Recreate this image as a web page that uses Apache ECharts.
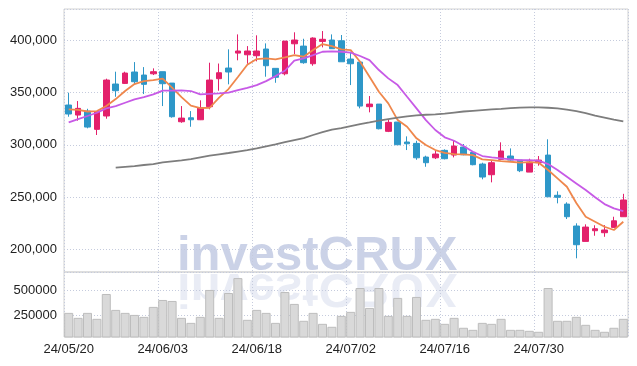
<!DOCTYPE html>
<html><head><meta charset="utf-8">
<script src="https://cdn.jsdelivr.net/npm/echarts@6/dist/echarts.min.js"></script>
<style>html,body{margin:0;padding:0;background:#fff}#c{width:637px;height:366px}</style>
</head><body><div id="c"></div>
<script>
const dates = ["24/05/20","24/05/21","24/05/22","24/05/23","24/05/24","24/05/27","24/05/28","24/05/29","24/05/30","24/05/31",
"24/06/03","24/06/04","24/06/05","24/06/07","24/06/10","24/06/11","24/06/12","24/06/13","24/06/14","24/06/17",
"24/06/18","24/06/19","24/06/20","24/06/21","24/06/24","24/06/25","24/06/26","24/06/27","24/06/28","24/07/01",
"24/07/02","24/07/03","24/07/04","24/07/05","24/07/08","24/07/09","24/07/10","24/07/11","24/07/12","24/07/15",
"24/07/16","24/07/17","24/07/18","24/07/19","24/07/22","24/07/23","24/07/24","24/07/25","24/07/26","24/07/29",
"24/07/30","24/07/31","24/08/01","24/08/02","24/08/05","24/08/06","24/08/07","24/08/08","24/08/09","24/08/12"];
const opens = [338100,328500,332300,314800,327600,358200,358800,369700,366800,368000,
370000,359100,322100,325900,324000,336500,363300,373500,387800,386200,
385300,391700,373200,368000,396700,394500,377600,399000,400300,399600,
382100,379200,336500,339000,312900,321800,302700,301400,288300,287600,
294700,290200,297900,292800,281600,271400,286100,289300,285400,273900,
282900,290200,251700,243300,222300,207600,217800,215900,221000,231200];
const closes = [329500,334900,317000,331700,362000,351800,368700,360400,357900,370000,
358500,326900,325600,324000,335500,362000,369000,369700,389800,389800,
389800,375700,364600,399300,400300,378600,402200,401000,392000,379500,
377600,337100,339000,315400,321500,300100,301000,287600,282900,291200,
286700,298800,290500,281000,269200,282900,294100,285400,275200,283500,
285400,250300,249800,231200,204400,221300,219700,218500,227300,247200];
const lows = [326900,323100,315800,309400,325000,346000,358200,358200,348600,366800,
337100,326000,321100,317300,323700,334000,351800,357900,380900,377600,
379900,365200,359400,366500,386900,377600,375700,393300,392000,379500,
357200,334900,331100,314800,312200,300100,295000,285700,279000,286400,
286100,288000,290000,280400,267000,264100,286100,284800,273900,273900,
280000,250300,244000,229000,191400,207600,213000,212000,221000,231200];
const highs = [349900,341900,334500,332300,363300,370000,370000,379200,374400,373200,
370000,359100,337100,332300,342600,378600,377800,391400,405700,394500,
404800,397100,373200,399300,407700,401500,402900,408900,405700,405100,
389100,379200,346700,339000,324400,321800,308100,303900,289600,294400,
295700,303900,300800,294000,282900,285500,302400,296600,285400,286700,
289300,305300,255500,245000,224900,223900,223000,223200,231200,253100];
const ma5 = [334000,333500,331900,332300,337100,343800,351500,358200,361000,362000,
363400,354800,345700,337600,335200,335500,345100,353400,364900,376700,
382100,382800,381800,383700,385900,384300,390700,396500,394500,391400,
390700,379500,365200,350800,339700,323700,317300,306200,299800,295000,
292400,291200,290900,290200,286100,285400,284500,283800,282900,283500,
282900,275900,267900,259900,244300,231200,226400,221600,218500,226400];
const ma10 = [321500,324700,327600,330700,334900,337100,340300,343500,345700,348300,
351800,351800,352200,351500,348300,348800,349300,349900,352400,354600,
357200,361000,365800,370900,380500,382800,385900,389100,389500,389100,
388300,385000,381100,371600,363600,357200,346000,334900,323700,314200,
307200,303900,298900,293400,289300,288000,287100,286100,285400,285400,
284800,281600,275900,269500,263100,256700,249800,243300,239200,236600];
const maLong = [null,null,null,null,null,278100,278900,279700,280700,281600,
283200,284200,285200,286400,288000,289600,290900,292200,293600,295000,
296600,298600,300500,302700,304600,306500,309400,312200,314600,316100,
318000,319900,321500,323200,324700,326100,327300,328200,328800,329200,
329900,330900,331900,332600,333300,334000,334500,335200,335700,335900,
335900,335500,334900,333800,332300,330400,328000,326100,324200,322500];
const volumes = [273600,223000,273600,213000,466000,304000,273600,253000,233000,334500,
405000,395000,223000,172000,233000,507000,223000,476000,628000,203000,
304000,273600,172000,486000,365000,193000,273600,162000,132000,243000,
284000,527000,324000,527000,243000,426000,243000,436000,203000,213000,
162000,223000,122000,101000,172000,162000,213000,101000,101000,91000,
81000,527000,193000,193000,233000,152000,101000,81000,122000,213000];
const volumeTicks = [250000, 500000];
const watermark = "investCRUX";

const UP = '#e3206b', DOWN = '#2e97c8';
const gridLine = {show:true, lineStyle:{color:'#c5cbdd', type:[1,2], width:1}};
const labelFont = {fontFamily:'Liberation Sans', fontSize:13, color:'#222'};
const wmFont = 'bold 49px "Liberation Sans"';

const chart = echarts.init(document.getElementById('c'), null, {renderer:'canvas'});
chart.setOption({
  animation:false,
  backgroundColor:'#fff',
  grid:[
    {left:64, right:9, top:9, height:263, show:true, borderColor:'#d2d2d2', borderWidth:1, backgroundColor:'transparent'},
    {left:64, right:9, top:272, height:65, show:true, borderColor:'#d2d2d2', borderWidth:1, backgroundColor:'transparent'}
  ],
  xAxis:[
    {type:'category', gridIndex:0, data:dates, boundaryGap:true,
     axisLine:{show:false}, axisTick:{show:false}, axisLabel:{show:false},
     splitLine:Object.assign({interval:9}, gridLine)},
    {type:'category', gridIndex:1, data:dates, boundaryGap:true,
     axisLine:{show:false}, axisTick:{show:false},
     axisLabel:Object.assign({interval:9, margin:6}, labelFont),
     splitLine:Object.assign({interval:9}, gridLine)}
  ],
  yAxis:[
    {type:'value', gridIndex:0, min:178300, max:430000, scale:true,
     axisLine:{show:false}, axisTick:{show:false},
     axisLabel:Object.assign({showMinLabel:false, showMaxLabel:false, margin:7,
       formatter:v=>v.toLocaleString('en-US')}, labelFont),
     splitLine:gridLine},
    {type:'value', gridIndex:1, min:28000, max:690000,
     axisLine:{show:false},
     axisTick:{show:false, customValues:volumeTicks},
     axisLabel:Object.assign({customValues:volumeTicks, margin:7, formatter:v=>String(v)}, labelFont),
     splitLine:gridLine}
  ],
  series:[
    {type:'candlestick', xAxisIndex:0, yAxisIndex:0, barWidth:6,
     data:opens.map((o,i)=>[o, closes[i], lows[i], highs[i]]),
     itemStyle:{color:UP, color0:DOWN, borderColor:UP, borderColor0:DOWN, borderWidth:1}, z:2},
    {type:'line', xAxisIndex:0, yAxisIndex:0, data:ma5, showSymbol:false, symbol:'none', z:4,
     lineStyle:{color:'#ef874c', width:1.8}},
    {type:'line', xAxisIndex:0, yAxisIndex:0, data:ma10, showSymbol:false, symbol:'none', z:4,
     lineStyle:{color:'#c75ae6', width:1.8}},
    {type:'line', xAxisIndex:0, yAxisIndex:0, data:maLong, showSymbol:false, symbol:'none', z:4,
     lineStyle:{color:'#7d7d7d', width:1.8}},
    {type:'bar', xAxisIndex:1, yAxisIndex:1, data:volumes, barCategoryGap:'4%',
     itemStyle:{color:'#d9d9d9', borderColor:'#bdbdbd', borderWidth:1}}
  ],
  graphic:[
    {type:'group', x:177, y:272, z:100, silent:true, children:[
      {type:'text', style:{x:0, y:-15.5, text:watermark, fill:'rgba(70,95,170,0.28)',
        font:wmFont, textVerticalAlign:'middle'}}
    ]},
    {type:'group', x:177, y:272, scaleY:-1, z:100, silent:true, children:[
      {type:'text', style:{x:0, y:-15.5, text:watermark, fill:'rgba(70,95,170,0.12)',
        font:wmFont, textVerticalAlign:'middle'}}
    ]}
  ]
});
</script></body></html>
